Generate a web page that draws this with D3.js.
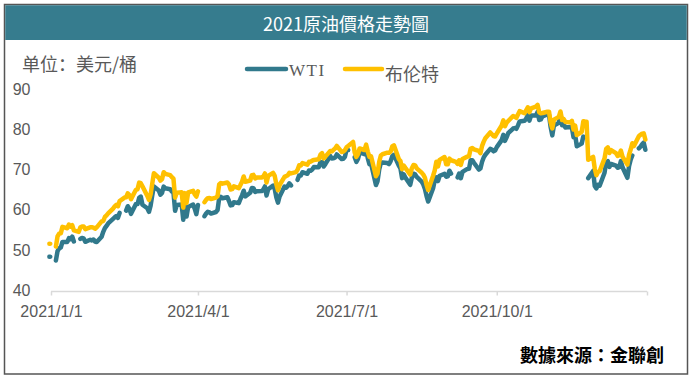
<!DOCTYPE html>
<html><head><meta charset="utf-8">
<script src="https://cdn.jsdelivr.net/npm/d3@7"></script>
<style>
html,body{margin:0;padding:0;background:#fff;}
svg{display:block;}
</style></head>
<body>
<script>
const title = "2021原油價格走勢圖";
const unitLabel = "单位：美元/桶";
const sourceLabel = "數據來源：金聯創";
const seriesNames = ["WTI", "布伦特"];
const yTicks = [40, 50, 60, 70, 80, 90];
const xTickDates = ["2021-01-01", "2021-04-01", "2021-07-01", "2021-10-01", "2022-01-01"];
const xTickLabels = ["2021/1/1", "2021/4/1", "2021/7/1", "2021/10/1", ""];

const dates = [
"2020-12-31",
// Jan
"2021-01-01","2021-01-04","2021-01-05","2021-01-06","2021-01-07","2021-01-08","2021-01-11","2021-01-12","2021-01-13","2021-01-14","2021-01-15","2021-01-18","2021-01-19","2021-01-20","2021-01-21","2021-01-22","2021-01-25","2021-01-26","2021-01-27","2021-01-28","2021-01-29",
// Feb
"2021-02-01","2021-02-02","2021-02-03","2021-02-04","2021-02-05","2021-02-08","2021-02-09","2021-02-10","2021-02-11","2021-02-12","2021-02-15","2021-02-16","2021-02-17","2021-02-18","2021-02-19","2021-02-22","2021-02-23","2021-02-24","2021-02-25","2021-02-26",
// Mar
"2021-03-01","2021-03-02","2021-03-03","2021-03-04","2021-03-05","2021-03-08","2021-03-09","2021-03-10","2021-03-11","2021-03-12","2021-03-15","2021-03-16","2021-03-17","2021-03-18","2021-03-19","2021-03-22","2021-03-23","2021-03-24","2021-03-25","2021-03-26","2021-03-29","2021-03-30","2021-03-31",
// Apr
"2021-04-01","2021-04-02","2021-04-05","2021-04-06","2021-04-07","2021-04-08","2021-04-09","2021-04-12","2021-04-13","2021-04-14","2021-04-15","2021-04-16","2021-04-19","2021-04-20","2021-04-21","2021-04-22","2021-04-23","2021-04-26","2021-04-27","2021-04-28","2021-04-29","2021-04-30",
// May
"2021-05-03","2021-05-04","2021-05-05","2021-05-06","2021-05-07","2021-05-10","2021-05-11","2021-05-12","2021-05-13","2021-05-14","2021-05-17","2021-05-18","2021-05-19","2021-05-20","2021-05-21","2021-05-24","2021-05-25","2021-05-26","2021-05-27","2021-05-28","2021-05-31",
// Jun
"2021-06-01","2021-06-02","2021-06-03","2021-06-04","2021-06-07","2021-06-08","2021-06-09","2021-06-10","2021-06-11","2021-06-14","2021-06-15","2021-06-16","2021-06-17","2021-06-18","2021-06-21","2021-06-22","2021-06-23","2021-06-24","2021-06-25","2021-06-28","2021-06-29","2021-06-30",
// Jul
"2021-07-01","2021-07-02","2021-07-05","2021-07-06","2021-07-07","2021-07-08","2021-07-09","2021-07-12","2021-07-13","2021-07-14","2021-07-15","2021-07-16","2021-07-19","2021-07-20","2021-07-21","2021-07-22","2021-07-23","2021-07-26","2021-07-27","2021-07-28","2021-07-29","2021-07-30",
// Aug
"2021-08-02","2021-08-03","2021-08-04","2021-08-05","2021-08-06","2021-08-09","2021-08-10","2021-08-11","2021-08-12","2021-08-13","2021-08-16","2021-08-17","2021-08-18","2021-08-19","2021-08-20","2021-08-23","2021-08-24","2021-08-25","2021-08-26","2021-08-27","2021-08-30","2021-08-31",
// Sep
"2021-09-01","2021-09-02","2021-09-03","2021-09-06","2021-09-07","2021-09-08","2021-09-09","2021-09-10","2021-09-13","2021-09-14","2021-09-15","2021-09-16","2021-09-17","2021-09-20","2021-09-21","2021-09-22","2021-09-23","2021-09-24","2021-09-27","2021-09-28","2021-09-29","2021-09-30",
// Oct
"2021-10-01","2021-10-04","2021-10-05","2021-10-06","2021-10-07","2021-10-08","2021-10-11","2021-10-12","2021-10-13","2021-10-14","2021-10-15","2021-10-18","2021-10-19","2021-10-20","2021-10-21","2021-10-22","2021-10-25","2021-10-26","2021-10-27","2021-10-28","2021-10-29",
// Nov
"2021-11-01","2021-11-02","2021-11-03","2021-11-04","2021-11-05","2021-11-08","2021-11-09","2021-11-10","2021-11-11","2021-11-12","2021-11-15","2021-11-16","2021-11-17","2021-11-18","2021-11-19","2021-11-22","2021-11-23","2021-11-24","2021-11-25","2021-11-26","2021-11-29","2021-11-30",
// Dec
"2021-12-01","2021-12-02","2021-12-03","2021-12-06","2021-12-07","2021-12-08","2021-12-09","2021-12-10","2021-12-13","2021-12-14","2021-12-15","2021-12-16","2021-12-17","2021-12-20","2021-12-21","2021-12-22","2021-12-23","2021-12-24","2021-12-27","2021-12-28","2021-12-29","2021-12-30","2021-12-31"
];

const wti = [
48.52,
// Jan
null,47.62,49.93,50.63,50.83,52.24,52.25,53.21,52.91,53.57,52.36,null,52.98,53.24,53.13,52.27,52.77,52.61,52.85,52.34,52.20,
// Feb
53.55,54.76,55.69,56.23,56.85,57.97,58.36,58.68,58.24,59.47,null,60.05,61.14,60.52,59.24,61.70,61.67,63.22,63.53,61.50,
// Mar
60.64,59.75,61.28,63.83,66.09,65.05,64.01,64.44,66.02,65.61,65.39,64.80,64.60,60.00,61.42,61.55,57.76,61.18,58.56,60.97,61.56,60.55,59.16,
// Apr
61.45,null,58.65,59.33,59.77,59.60,59.32,59.70,60.18,63.15,63.46,63.13,63.38,62.44,61.35,61.43,62.14,61.91,62.94,63.86,65.01,63.58,
// May
64.49,65.69,65.63,64.71,64.90,64.92,65.28,66.08,63.82,65.37,66.27,65.49,63.36,62.05,63.58,66.05,65.76,66.21,66.85,66.32,null,
// Jun
67.72,68.83,68.81,69.62,69.23,70.05,69.96,70.29,70.91,70.88,72.12,72.15,71.04,71.64,73.66,73.06,73.08,73.30,74.05,72.91,72.98,73.47,
// Jul
75.23,75.16,null,73.37,72.20,72.94,74.56,74.10,75.25,73.13,71.65,71.81,66.42,67.42,70.30,71.91,72.07,71.91,71.65,72.39,73.62,73.95,
// Aug
71.26,70.56,68.15,69.09,68.28,66.48,68.29,69.25,69.09,68.44,67.29,66.59,65.46,63.69,62.32,65.64,67.54,68.36,67.42,68.74,69.21,68.50,
// Sep
68.59,69.99,69.29,null,68.35,69.30,68.14,69.72,70.45,70.46,72.61,72.61,71.97,70.29,70.56,72.23,73.30,73.98,75.45,75.29,74.83,75.03,
// Oct
75.88,77.62,78.93,77.43,78.30,79.35,80.52,80.64,80.44,81.31,82.28,82.44,82.96,83.87,82.50,83.76,83.76,84.65,82.66,82.81,83.57,
// Nov
84.05,83.91,80.86,78.81,81.27,81.93,84.15,81.34,81.59,80.79,80.88,80.76,78.36,79.01,76.10,76.75,78.50,78.39,null,68.15,69.95,66.18,
// Dec
65.57,66.50,66.26,69.49,72.05,72.36,70.94,71.67,71.29,70.73,70.87,72.38,70.86,68.23,71.12,72.76,73.79,null,75.57,75.98,76.56,76.99,75.21
];

const brent = [
51.80,
// Jan
null,51.09,53.60,54.30,54.38,55.99,55.66,56.58,56.06,56.42,55.10,54.75,55.90,56.08,56.10,55.41,55.88,55.91,55.81,55.53,55.88,
// Feb
57.35,57.46,58.46,58.84,59.34,60.56,61.09,61.47,61.14,62.43,63.30,63.35,64.34,63.93,62.91,65.24,65.37,67.04,66.88,66.13,
// Mar
63.69,62.70,64.07,66.74,69.36,68.24,67.52,67.90,69.63,69.22,68.88,68.39,68.00,63.28,64.53,64.62,60.79,64.41,61.95,64.57,64.98,64.14,63.54,
// Apr
64.86,null,62.15,62.74,63.16,63.20,62.95,63.28,63.67,66.58,66.94,66.77,67.05,66.57,65.32,65.40,66.11,65.65,66.42,67.27,68.56,67.25,
// May
67.56,68.88,68.96,68.09,68.28,68.32,68.55,69.32,67.05,68.71,69.46,68.71,66.66,65.11,66.44,68.46,68.65,68.87,69.46,69.32,69.63,
// Jun
70.25,71.35,71.31,71.89,71.49,72.22,72.22,72.52,72.69,72.86,73.99,74.39,73.08,73.51,74.90,74.81,75.19,75.56,76.18,74.68,74.76,75.13,
// Jul
75.84,76.17,77.16,74.53,73.43,74.12,75.55,75.16,76.49,74.76,73.47,73.59,68.62,69.35,72.23,73.79,74.10,74.50,74.48,74.74,76.05,76.33,
// Aug
72.89,72.41,70.38,71.29,70.70,69.04,70.63,71.44,71.31,70.59,69.51,69.03,68.23,66.45,65.18,68.75,70.05,72.25,71.07,72.70,73.41,71.63,
// Sep
71.59,73.03,72.61,72.22,71.69,72.60,71.45,72.92,73.51,73.60,75.46,75.67,75.34,74.92,74.36,76.19,77.25,78.09,79.53,79.09,78.64,78.52,
// Oct
79.28,81.26,82.56,81.08,81.95,82.39,83.65,83.42,83.18,84.00,84.86,84.33,85.08,85.82,84.61,85.53,85.99,86.40,84.58,84.32,84.38,
// Nov
84.71,84.72,81.99,80.54,82.74,83.43,84.78,82.64,82.87,82.17,82.05,82.43,80.28,81.24,78.89,79.70,82.31,82.25,82.22,72.72,73.44,70.57,
// Dec
68.87,69.67,69.88,73.08,75.44,75.82,74.42,75.15,74.39,73.70,73.88,75.02,73.52,71.52,73.98,75.29,76.85,76.14,78.60,78.94,79.23,79.32,77.78
];

const colors = ["#31798c", "#ffc000"];

const W = 691, H = 379;
const svg = d3.select("body").append("svg").attr("width", W).attr("height", H);
svg.append("rect").attr("width", W).attr("height", H).attr("fill", "#fff");

// frame
svg.append("rect").attr("x", 4.5).attr("y", 4.5).attr("width", 683).attr("height", 369.5)
  .attr("fill", "#fff").attr("stroke", "#555").attr("stroke-width", 1.5);
svg.append("rect").attr("x", 5.25).attr("y", 5.25).attr("width", 681.5).attr("height", 34.75)
  .attr("fill", "#367c8e");
svg.append("text").attr("x", 346).attr("y", 23).attr("text-anchor", "middle")
  .attr("dominant-baseline", "central")
  .attr("font-family", "'Noto Sans CJK TC', 'Noto Sans CJK SC', sans-serif")
  .attr("font-size", 18).attr("fill", "#fff").text(title);

const parse = d3.timeParse("%Y-%m-%d");
const x = d3.scaleTime().domain([parse("2021-01-01"), parse("2022-01-01")]).range([51, 647]);
const y = d3.scaleLinear().domain([40, 90]).range([291, 90.5]);

// unit label
svg.append("text").attr("x", 22).attr("y", 63).attr("dominant-baseline", "central")
  .attr("font-family", "'Noto Sans CJK SC', 'Noto Sans CJK TC', sans-serif")
  .attr("font-size", 18).attr("fill", "#595959").text(unitLabel);

// y tick labels
svg.append("g").selectAll("text").data(yTicks).join("text")
  .attr("x", 30.5).attr("y", d => y(d) - 1).attr("dy", "0.35em").attr("text-anchor", "end")
  .attr("font-family", "'Liberation Sans', Arial, sans-serif").attr("font-size", 16)
  .attr("fill", "#595959").text(d => d);

// x axis
const xAxisG = svg.append("g").attr("transform", "translate(0,291.5)");
const xAxis = d3.axisBottom(x).tickValues(xTickDates.map(parse)).tickSize(4)
  .tickFormat((d, i) => xTickLabels[i]);
xAxisG.call(xAxis);
xAxisG.select(".domain").attr("stroke", "#d9d9d9").attr("stroke-width", 1.5).attr("d", "M51,0H647");
xAxisG.selectAll(".tick line").attr("stroke", "#d9d9d9").attr("stroke-width", 1.5);
xAxisG.selectAll(".tick text").attr("y", 19.5).attr("dy", "0.35em")
  .attr("font-family", "'Liberation Sans', Arial, sans-serif").attr("font-size", 16).attr("fill", "#595959");

// lines
const parsedDates = dates.map(parse);
[wti, brent].forEach((vals, si) => {
  const pts = parsedDates.map((d, i) => ({d, v: vals[i]}));
  const line = d3.line().defined(p => p.v != null).x(p => x(p.d)).y(p => y(p.v));
  svg.append("path").datum(pts).attr("d", line).attr("fill", "none")
    .attr("stroke", colors[si]).attr("stroke-width", 4.5)
    .attr("stroke-linejoin", "round").attr("stroke-linecap", "round");
  // isolated points
  const iso = pts.filter((p, i) => p.v != null &&
    (i === 0 || pts[i-1].v == null) && (i === pts.length - 1 || pts[i+1].v == null));
  svg.append("g").selectAll("circle").data(iso).join("circle")
    .attr("cx", p => Math.max(x(p.d), 50.5)).attr("cy", p => y(p.v)).attr("r", 2)
    .attr("fill", colors[si]);
});

// legend
const legend = [
  {name: seriesNames[0], x1: 247, x2: 286, tx: 289, font: "'Liberation Serif', serif", size: 17, ty: 70},
  {name: seriesNames[1], x1: 345, x2: 382, tx: 385, font: "'Noto Sans CJK SC', sans-serif", size: 18, ty: 73}
];
legend.forEach((l, i) => {
  svg.append("line").attr("x1", l.x1).attr("x2", l.x2).attr("y1", 69).attr("y2", 69)
    .attr("stroke", colors[i]).attr("stroke-width", 4.5).attr("stroke-linecap", "round");
  svg.append("text").attr("x", l.tx).attr("y", l.ty).attr("dominant-baseline", "central")
    .attr("font-family", l.font).attr("font-size", l.size).attr("fill", "#595959")
    .attr("letter-spacing", i === 0 ? 1.5 : 0).text(l.name);
});

// source
svg.append("text").attr("x", 664).attr("y", 354).attr("text-anchor", "end")
  .attr("dominant-baseline", "central")
  .attr("font-family", "'Noto Sans CJK TC', sans-serif").attr("font-weight", "bold")
  .attr("font-size", 18).attr("fill", "#000").text(sourceLabel);
</script>
</body></html>
